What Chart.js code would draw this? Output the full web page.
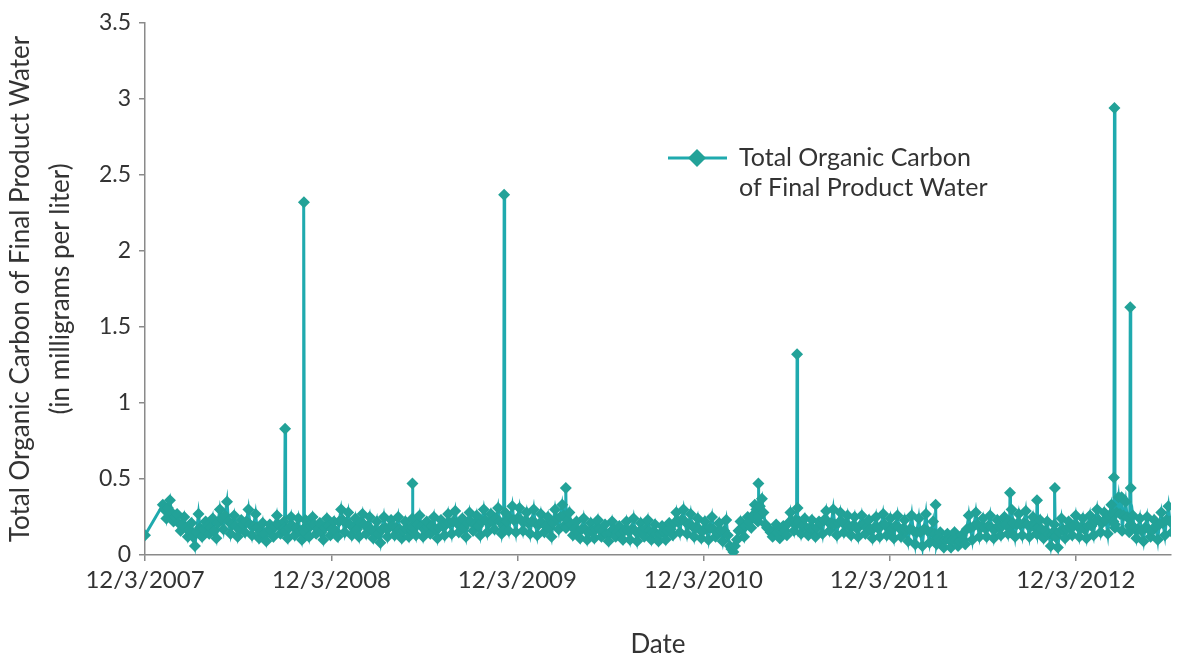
<!DOCTYPE html>
<html>
<head>
<meta charset="utf-8">
<script src="https://cdn.jsdelivr.net/npm/chart.js@4/dist/chart.umd.min.js"></script>
<style>
  html, body { margin: 0; padding: 0; background: #fff; overflow: hidden; }
  canvas { display: block; }
</style>
</head>
<body>
<canvas id="tocChart" width="1177" height="656"></canvas>
<script>
// x axis is days since 12/3/2007
const tickDays = [0, 366, 731, 1096, 1461, 1827];
const tickLabels = ['12/3/2007', '12/3/2008', '12/3/2009', '12/3/2010', '12/3/2011', '12/3/2012'];
const yTicks = [0, 0.5, 1, 1.5, 2, 2.5, 3, 3.5];

// readings twice a week: one set from day 35, the other from day 38, each every 7 days
const weeklyStep = 7;
const setAStartDay = 35;
const setAValues = [
  0.33, 0.24, 0.36, 0.22, 0.27, 0.16, 0.25, 0.12, 0.21, 0.06,
  0.27, 0.12, 0.22, 0.14, 0.24, 0.11, 0.30, 0.17, 0.35, 0.14,
  0.26, 0.12, 0.23, 0.15, 0.30, 0.13, 0.27, 0.11, 0.21, 0.09,
  0.20, 0.12, 0.26, 0.14, 0.22, 0.11, 0.25, 0.13, 0.24, 0.10,
  0.23, 0.12, 0.25, 0.14, 0.21, 0.10, 0.24, 0.13, 0.22, 0.12,
  0.30, 0.15, 0.28, 0.13, 0.24, 0.12, 0.27, 0.14, 0.25, 0.11,
  0.22, 0.08, 0.25, 0.12, 0.23, 0.13, 0.25, 0.11, 0.22, 0.12,
  0.24, 0.13, 0.26, 0.12, 0.22, 0.14, 0.25, 0.11, 0.23, 0.13,
  0.27, 0.14, 0.29, 0.15, 0.24, 0.12, 0.28, 0.16, 0.26, 0.13,
  0.30, 0.15, 0.27, 0.17, 0.31, 0.14, 0.28, 0.16, 0.32, 0.15,
  0.31, 0.16, 0.28, 0.14, 0.30, 0.13, 0.27, 0.15, 0.25, 0.12,
  0.30, 0.17, 0.33, 0.18, 0.28, 0.13, 0.22, 0.11, 0.24, 0.10,
  0.21, 0.11, 0.23, 0.12, 0.20, 0.09, 0.22, 0.12, 0.19, 0.10,
  0.22, 0.10, 0.24, 0.09, 0.21, 0.12, 0.23, 0.10, 0.20, 0.09,
  0.19, 0.10, 0.21, 0.13, 0.28, 0.15, 0.30, 0.14, 0.27, 0.12,
  0.24, 0.11, 0.22, 0.10, 0.25, 0.12, 0.21, 0.09, 0.23, 0.06,
  0.02, 0.10, 0.22, 0.12, 0.25, 0.18, 0.33, 0.27, 0.37, 0.20,
  0.17, 0.12, 0.20, 0.11, 0.19, 0.13, 0.28, 0.16, 0.31, 0.14,
  0.24, 0.13, 0.23, 0.12, 0.22, 0.14, 0.29, 0.16, 0.30, 0.13,
  0.28, 0.15, 0.26, 0.13, 0.25, 0.12, 0.26, 0.14, 0.23, 0.11,
  0.25, 0.12, 0.27, 0.13, 0.24, 0.11, 0.26, 0.12, 0.23, 0.09,
  0.26, 0.07, 0.24, 0.06, 0.27, 0.08, 0.22, 0.07, 0.15, 0.05,
  0.14, 0.05, 0.15, 0.06, 0.13, 0.07, 0.26, 0.10, 0.28, 0.12,
  0.24, 0.12, 0.26, 0.11, 0.23, 0.13, 0.25, 0.14, 0.30, 0.12,
  0.27, 0.13, 0.29, 0.12, 0.25, 0.14, 0.23, 0.11, 0.22, 0.06,
  0.20, 0.05, 0.24, 0.11, 0.22, 0.13, 0.26, 0.12, 0.24, 0.11,
  0.26, 0.13, 0.30, 0.15, 0.28, 0.14, 0.33, 0.18, 0.38, 0.16,
  0.35, 0.15, 0.26, 0.11, 0.24, 0.09, 0.25, 0.12, 0.23, 0.10,
  0.28, 0.13, 0.32, 0.15
];
const setBStartDay = 38;
const setBValues = [
  0.30, 0.31, 0.28, 0.25, 0.21, 0.20, 0.18, 0.17, 0.12, 0.15,
  0.18, 0.17, 0.19, 0.18, 0.16, 0.21, 0.24, 0.26, 0.22, 0.20,
  0.19, 0.17, 0.20, 0.22, 0.20, 0.19, 0.18, 0.15, 0.14, 0.16,
  0.16, 0.19, 0.20, 0.17, 0.16, 0.18, 0.19, 0.18, 0.16, 0.17,
  0.18, 0.19, 0.20, 0.17, 0.15, 0.18, 0.19, 0.17, 0.16, 0.22,
  0.23, 0.21, 0.20, 0.18, 0.17, 0.21, 0.20, 0.19, 0.17, 0.16,
  0.14, 0.17, 0.18, 0.18, 0.19, 0.18, 0.17, 0.16, 0.17, 0.18,
  0.19, 0.20, 0.19, 0.17, 0.18, 0.19, 0.17, 0.18, 0.19, 0.20,
  0.21, 0.22, 0.21, 0.19, 0.18, 0.21, 0.22, 0.20, 0.19, 0.22,
  0.23, 0.21, 0.22, 0.24, 0.22, 0.21, 0.22, 0.24, 0.23, 0.24,
  0.23, 0.22, 0.21, 0.22, 0.21, 0.20, 0.21, 0.19, 0.18, 0.21,
  0.24, 0.25, 0.26, 0.23, 0.20, 0.17, 0.16, 0.17, 0.17, 0.15,
  0.16, 0.17, 0.17, 0.16, 0.14, 0.15, 0.17, 0.15, 0.14, 0.16,
  0.16, 0.17, 0.16, 0.15, 0.16, 0.17, 0.16, 0.15, 0.14, 0.14,
  0.15, 0.16, 0.17, 0.21, 0.22, 0.23, 0.22, 0.20, 0.19, 0.18,
  0.17, 0.16, 0.17, 0.18, 0.17, 0.15, 0.16, 0.16, 0.13, 0.04,
  0.06, 0.16, 0.17, 0.19, 0.22, 0.26, 0.30, 0.32, 0.28, 0.18,
  0.15, 0.16, 0.15, 0.16, 0.16, 0.21, 0.22, 0.23, 0.22, 0.19,
  0.18, 0.18, 0.17, 0.18, 0.21, 0.23, 0.22, 0.21, 0.20, 0.21,
  0.22, 0.20, 0.19, 0.19, 0.18, 0.19, 0.20, 0.18, 0.17, 0.18,
  0.18, 0.19, 0.20, 0.18, 0.17, 0.19, 0.18, 0.17, 0.16, 0.17,
  0.16, 0.15, 0.15, 0.17, 0.16, 0.15, 0.14, 0.11, 0.10, 0.10,
  0.10, 0.10, 0.10, 0.09, 0.10, 0.17, 0.18, 0.19, 0.20, 0.18,
  0.18, 0.19, 0.18, 0.17, 0.19, 0.19, 0.20, 0.22, 0.21, 0.20,
  0.20, 0.21, 0.20, 0.19, 0.19, 0.18, 0.17, 0.16, 0.14, 0.13,
  0.12, 0.15, 0.17, 0.17, 0.18, 0.19, 0.19, 0.18, 0.17, 0.19,
  0.19, 0.22, 0.23, 0.21, 0.23, 0.26, 0.27, 0.28, 0.27, 0.26,
  0.25, 0.20, 0.18, 0.17, 0.16, 0.18, 0.17, 0.16, 0.19, 0.20,
  0.21, 0.23, 0.22
];

// single-day readings: first sample and the spikes with the days around them
const extraDays = [
  0,
  274, 275, 276,
  311, 312, 313,
  524, 525, 526,
  704, 705, 706,
  825, 826, 827,
  1203, 1204, 1205,
  1279, 1280, 1281,
  1551, 1552, 1553,
  1697, 1698, 1699,
  1750, 1751, 1752,
  1785, 1786, 1787,
  1901, 1902, 1903, 1904,
  1917,
  1933, 1934, 1935, 1936
];
const extraValues = [
  0.13,
  0.18, 0.83, 0.16,
  0.17, 2.32, 0.15,
  0.16, 0.47, 0.18,
  0.19, 2.37, 0.17,
  0.20, 0.44, 0.18,
  0.22, 0.47, 0.25,
  0.20, 1.32, 0.21,
  0.10, 0.33, 0.09,
  0.18, 0.41, 0.15,
  0.17, 0.36, 0.14,
  0.16, 0.44, 0.12,
  0.22, 0.51, 2.94, 0.20,
  0.38,
  0.19, 1.63, 0.44, 0.18
];

const seriesLabel = 'Total Organic Carbon of Final Product Water';
const legendLines = ['Total Organic Carbon', 'of Final Product Water'];
const yTitle = ['Total Organic Carbon of Final Product Water', '(in milligrams per liter)'];
const xTitle = 'Date';

const lineColor = '#1faaae';
const markColor = '#22a298';
const textColor = '#333333';
const axisColor = '#8a8a8a';
const fontFamily = 'Lato, "Open Sans", sans-serif';

const points = setAValues.map((v, i) => ({ x: setAStartDay + i * weeklyStep, y: v }))
  .concat(setBValues.map((v, i) => ({ x: setBStartDay + i * weeklyStep, y: v })))
  .concat(extraDays.map((d, i) => ({ x: d, y: extraValues[i] })))
  .sort((a, b) => a.x - b.x);

const legendPlugin = {
  id: 'boxLegend',
  afterDraw(chart) {
    const c = chart.ctx;
    c.save();
    c.strokeStyle = lineColor;
    c.lineWidth = 3;
    c.beginPath();
    c.moveTo(668, 158);
    c.lineTo(727, 158);
    c.stroke();
    c.fillStyle = markColor;
    c.beginPath();
    c.moveTo(697, 149);
    c.lineTo(706, 158);
    c.lineTo(697, 167);
    c.lineTo(688, 158);
    c.closePath();
    c.fill();
    c.fillStyle = textColor;
    c.font = '25px ' + fontFamily;
    c.textBaseline = 'middle';
    c.textAlign = 'left';
    legendLines.forEach((t, i) => c.fillText(t, 739, 158 + i * 30));
    c.restore();
  }
};

new Chart(document.getElementById('tocChart'), {
  type: 'line',
  data: {
    datasets: [{
      label: seriesLabel,
      data: points,
      borderColor: lineColor,
      borderWidth: 3,
      pointStyle: 'rectRot',
      pointRadius: 6,
      pointBorderWidth: 0,
      pointBackgroundColor: markColor,
      tension: 0
    }]
  },
  options: {
    responsive: false,
    animation: false,
    layout: { padding: { top: 23, right: 0, left: 0, bottom: 0 } },
    plugins: {
      legend: { display: false },
      tooltip: { enabled: false }
    },
    scales: {
      x: {
        type: 'linear',
        min: 0,
        max: 2014,
        afterBuildTicks: (scale) => { scale.ticks = tickDays.map(v => ({ value: v })); },
        afterFit: (scale) => { scale.height = 101; },
        border: { color: axisColor, width: 1.5 },
        grid: { drawOnChartArea: false, tickLength: 6, color: axisColor, lineWidth: 1.5 },
        ticks: {
          autoSkip: false,
          maxRotation: 0,
          padding: 5,
          color: textColor,
          font: { family: fontFamily, size: 24 },
          callback: (v) => tickLabels[tickDays.indexOf(v)]
        },
        title: {
          display: true,
          text: xTitle,
          color: textColor,
          font: { family: fontFamily, size: 26, lineHeight: 0.85 },
          padding: { top: 24, bottom: 0 }
        }
      },
      y: {
        min: 0,
        max: 3.5,
        afterBuildTicks: (scale) => { scale.ticks = yTicks.map(v => ({ value: v })); },
        afterFit: (scale) => { scale.width = 145; },
        border: { color: axisColor, width: 1.5 },
        grid: { drawOnChartArea: false, tickLength: 6, color: axisColor, lineWidth: 1.5 },
        ticks: {
          padding: 8,
          color: textColor,
          font: { family: fontFamily, size: 23 },
          callback: (v) => String(v)
        },
        title: {
          display: true,
          text: yTitle,
          color: textColor,
          font: { family: fontFamily, size: 26, lineHeight: 1.55 },
          padding: { top: 0, bottom: 0 }
        }
      }
    }
  },
  plugins: [legendPlugin]
});
</script>
</body>
</html>
